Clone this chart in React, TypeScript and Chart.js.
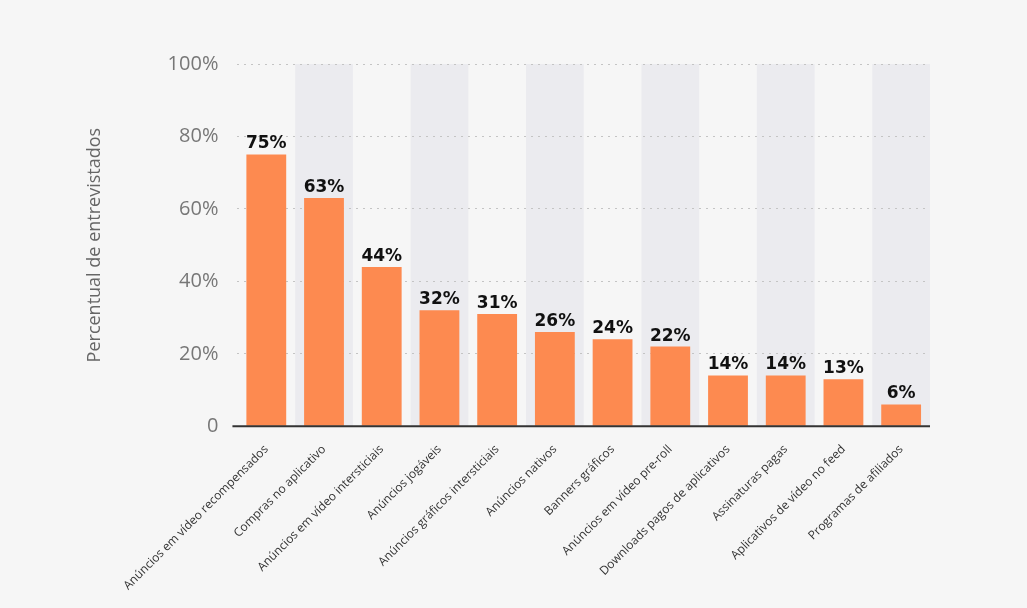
import React, { useEffect, useRef } from 'react';
import { Chart, registerables } from 'chart.js';

Chart.register(...registerables);

const categories = [
  'Anúncios em vídeo recompensados',
  'Compras no aplicativo',
  'Anúncios em vídeo intersticiais',
  'Anúncios jogáveis',
  'Anúncios gráficos intersticiais',
  'Anúncios nativos',
  'Banners gráficos',
  'Anúncios em vídeo pre-roll',
  'Downloads pagos de aplicativos',
  'Assinaturas pagas',
  'Aplicativos de vídeo no feed',
  'Programas de afiliados',
];

const shares = [75, 63, 44, 32, 31, 26, 24, 22, 14, 14, 13, 6];

const yTicks = [0, 20, 40, 60, 80, 100];

// alternating grey column bands + the zero axis line
const stripesPlugin = {
  id: 'stripes',
  beforeDraw(chart: any) {
    const { ctx, chartArea } = chart;
    const x = chart.scales.x;
    const step = (chartArea.right - chartArea.left) / categories.length;
    ctx.save();
    ctx.fillStyle = '#ebebef';
    categories.forEach((_, i) => {
      if (i % 2 === 1) {
        const cx = x.getPixelForValue(i);
        ctx.fillRect(cx - step / 2, chartArea.top, step, chartArea.bottom - chartArea.top);
      }
    });
    ctx.restore();
  },
  afterDatasetsDraw(chart: any) {
    const { ctx, chartArea } = chart;
    const y0 = chart.scales.y.getPixelForValue(0);
    ctx.save();
    ctx.strokeStyle = '#333';
    ctx.lineWidth = 2;
    ctx.beginPath();
    ctx.moveTo(chartArea.left - 5, y0);
    ctx.lineTo(chartArea.right, y0);
    ctx.stroke();

    const meta = chart.getDatasetMeta(0);
    ctx.fillStyle = '#111';
    ctx.font = 'bold 17px "DejaVu Sans"';
    ctx.textAlign = 'center';
    ctx.textBaseline = 'bottom';
    meta.data.forEach((bar: any, i: number) => {
      ctx.fillText(shares[i] + '%', bar.x, bar.y - 2);
    });
    ctx.restore();
  },
};

const BarChart: React.FC = () => {
  const chartRef = useRef<HTMLCanvasElement>(null);
  const chartInstance = useRef<Chart | null>(null);

  useEffect(() => {
    if (!chartRef.current) return;
    if (chartInstance.current) chartInstance.current.destroy();
    const ctx = chartRef.current.getContext('2d');
    if (!ctx) return;

    chartInstance.current = new Chart(ctx, {
      type: 'bar',
      data: {
        labels: categories,
        datasets: [
          {
            data: shares,
            backgroundColor: '#fd8a50',
            barPercentage: 0.69,
            categoryPercentage: 1,
          },
        ],
      },
      options: {
        responsive: true,
        maintainAspectRatio: false,
        animation: false,
        layout: { padding: { left: 84, right: 97, top: 64, bottom: 7 } },
        plugins: {
          legend: { display: false },
          tooltip: { enabled: false },
        },
        scales: {
          x: {
            grid: { display: false },
            border: { display: false },
            ticks: {
              maxRotation: 45,
              minRotation: 45,
              autoSkip: false,
              padding: 8,
              color: '#333',
              font: { family: '"Open Sans"', size: 12 },
            },
          },
          y: {
            min: 0,
            max: 100,
            afterBuildTicks: (axis: any) => {
              axis.ticks = yTicks.map((v) => ({ value: v }));
            },
            border: { display: false, dash: [2, 5] },
            grid: {
              drawTicks: false,
              color: (c: any) => (c.tick && c.tick.value === 0 ? 'rgba(0,0,0,0)' : '#c4c4c4'),
            },
            ticks: {
              padding: 19,
              color: '#777',
              font: { family: '"Open Sans"', size: 20 },
              callback: (v: any) => (v === 0 ? '0' : v + '%'),
            },
            title: {
              display: true,
              text: 'Percentual de entrevistados',
              color: '#666',
              font: { family: '"Open Sans"', size: 18 },
              padding: { top: 0, bottom: 43 },
            },
          },
        },
      },
      plugins: [stripesPlugin],
    });

    return () => {
      if (chartInstance.current) {
        chartInstance.current.destroy();
        chartInstance.current = null;
      }
    };
  }, []);

  return (
    <div style={{ position: 'fixed', left: 0, top: 0, width: 1027, height: 608, background: '#f6f6f6' }}>
      <canvas ref={chartRef} />
    </div>
  );
};

export default function App() {
  return <BarChart />;
}
